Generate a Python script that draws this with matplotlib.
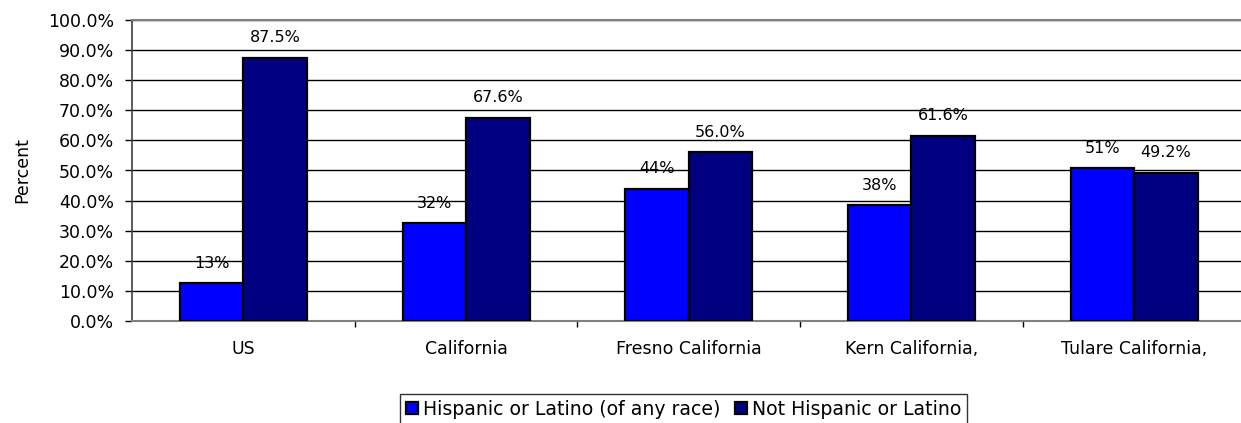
import numpy as np
import matplotlib.pyplot as plt
from matplotlib.ticker import FixedLocator, PercentFormatter

# Arial in the original looks stretched wide, DejaVu Sans fits its size better
plt.rcParams['font.family'] = ['DejaVu Sans']

# data
categories = ["US", "California", "Fresno California", "Kern California,", "Tulare California,"]
hispanic = [12.5, 32.4, 44.0, 38.4, 50.8]
not_hispanic = [87.5, 67.6, 56.0, 61.6, 49.2]
hispanic_labels = ["13%", "32%", "44%", "38%", "51%"]
not_hispanic_labels = ["87.5%", "67.6%", "56.0%", "61.6%", "49.2%"]
series_names = ["Hispanic or Latino (of any race)", "Not Hispanic or Latino"]

W, H = 1241, 423
fig = plt.figure(figsize=(W / 100, H / 100), dpi=100)
ax = fig.add_axes([132 / W, (H - 321) / H, 1113.5 / W, 301 / H])

x = np.arange(len(categories))
bw = 0.285
b1 = ax.bar(x - bw / 2, hispanic, bw, color='#0000FF', edgecolor='black', linewidth=1.6,
            label=series_names[0], zorder=3)
b2 = ax.bar(x + bw / 2, not_hispanic, bw, color='#000080', edgecolor='black', linewidth=1.6,
            label=series_names[1], zorder=3)

for bars, labels in [(b1, hispanic_labels), (b2, not_hispanic_labels)]:
    for rect, lab in zip(bars, labels):
        ax.annotate(lab, (rect.get_x() + rect.get_width() / 2, rect.get_height()),
                    xytext=(0, 20), textcoords='offset pixels', ha='center', va='center',
                    fontsize=11.5)

ax.set_xlim(-0.5, len(categories) - 0.5)
ax.set_ylim(0, 100)
ax.set_yticks(np.arange(0, 101, 10))
ax.yaxis.set_major_formatter(PercentFormatter(decimals=1))
ax.grid(axis='y', color='black', linewidth=1.0, zorder=0)
ax.set_axisbelow(True)

ax.set_xticks(x)
ax.set_xticklabels(categories, fontsize=12.5)
ax.xaxis.set_minor_locator(FixedLocator(np.arange(0.5, len(categories) - 0.5, 1)))
ax.tick_params(axis='x', which='major', length=0, pad=14)
ax.tick_params(axis='x', which='minor', length=4.3, width=1, color='black', direction='out')
ax.tick_params(axis='y', length=5, width=1, direction='out', labelsize=12.5, pad=8)

ax.set_ylabel("Percent", fontsize=12.5, va='center')
ax.yaxis.set_label_coords((22 - 132) / 1113.5, 0.5)

for side in ['top', 'right', 'bottom']:
    ax.spines[side].set_color('#808080')
    ax.spines[side].set_linewidth(1.5)
ax.spines['left'].set_color('#404040')
ax.spines['left'].set_linewidth(1.2)

leg = fig.legend(loc='upper left', bbox_to_anchor=(400 / W, 1 - 394 / H), ncol=2,
                 borderaxespad=0, fontsize=13.6, frameon=True, fancybox=False,
                 edgecolor='black', handlelength=0.65, handleheight=0.65,
                 handletextpad=0.25, columnspacing=0.8, borderpad=0.3)
leg.get_frame().set_linewidth(1.0)

fig.savefig("out.png", dpi=100)
